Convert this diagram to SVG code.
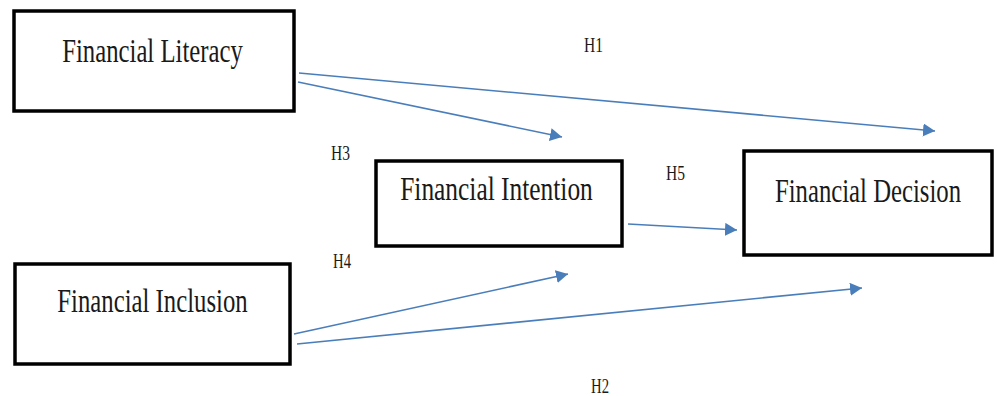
<svg xmlns="http://www.w3.org/2000/svg" width="997" height="396" viewBox="0 0 997 396">
<style>
.box{fill:#fff;stroke:#000;stroke-width:3.5}
.lbl{font-family:"Liberation Serif",serif;font-size:33px;fill:#1a1a1a;text-anchor:middle}
.h{font-family:"Liberation Serif",serif;font-size:20px;fill:#1a1a1a}
.conn{stroke:#4a7ebb;stroke-width:1.6;fill:none;marker-end:url(#arr)}
</style>
<defs>
<marker id="arr" markerUnits="userSpaceOnUse" markerWidth="14" markerHeight="14" refX="12" refY="6.5" orient="auto">
<path d="M0,0 L12,6.5 L0,13 z" fill="#4a7ebb"/>
</marker>
</defs>
<rect width="997" height="396" fill="#fff"/>
<g id="connectors">
<line class="conn" x1="299" y1="73" x2="935" y2="131"/>
<line class="conn" x1="298" y1="82" x2="562" y2="137"/>
<line class="conn" x1="628" y1="224" x2="737" y2="230"/>
<line class="conn" x1="294" y1="334" x2="568" y2="274"/>
<line class="conn" x1="297" y1="344" x2="862" y2="288"/>
</g>
<g id="labels">
<text class="h" x="584" y="52" textLength="19" lengthAdjust="spacingAndGlyphs">H1</text>
<text class="h" x="331" y="160" textLength="19" lengthAdjust="spacingAndGlyphs">H3</text>
<text class="h" x="666" y="180" textLength="19" lengthAdjust="spacingAndGlyphs">H5</text>
<text class="h" x="333" y="268" textLength="18" lengthAdjust="spacingAndGlyphs">H4</text>
<text class="h" x="591" y="393" textLength="18" lengthAdjust="spacingAndGlyphs">H2</text>
</g>
<g id="literacy">
<rect class="box" x="14" y="11" width="280" height="100"/>
<text class="lbl" transform="translate(152.5,62) scale(0.75,1)">Financial Literacy</text>
</g>
<g id="intention">
<rect class="box" x="376" y="161" width="246" height="85"/>
<text class="lbl" transform="translate(496.5,200) scale(0.77,1)">Financial Intention</text>
</g>
<g id="decision">
<rect class="box" x="744" y="151" width="248" height="104"/>
<text class="lbl" transform="translate(868,202) scale(0.75,1)">Financial Decision</text>
</g>
<g id="inclusion">
<rect class="box" x="15" y="264" width="275" height="100"/>
<text class="lbl" transform="translate(152.5,312) scale(0.75,1)">Financial Inclusion</text>
</g>
</svg>
